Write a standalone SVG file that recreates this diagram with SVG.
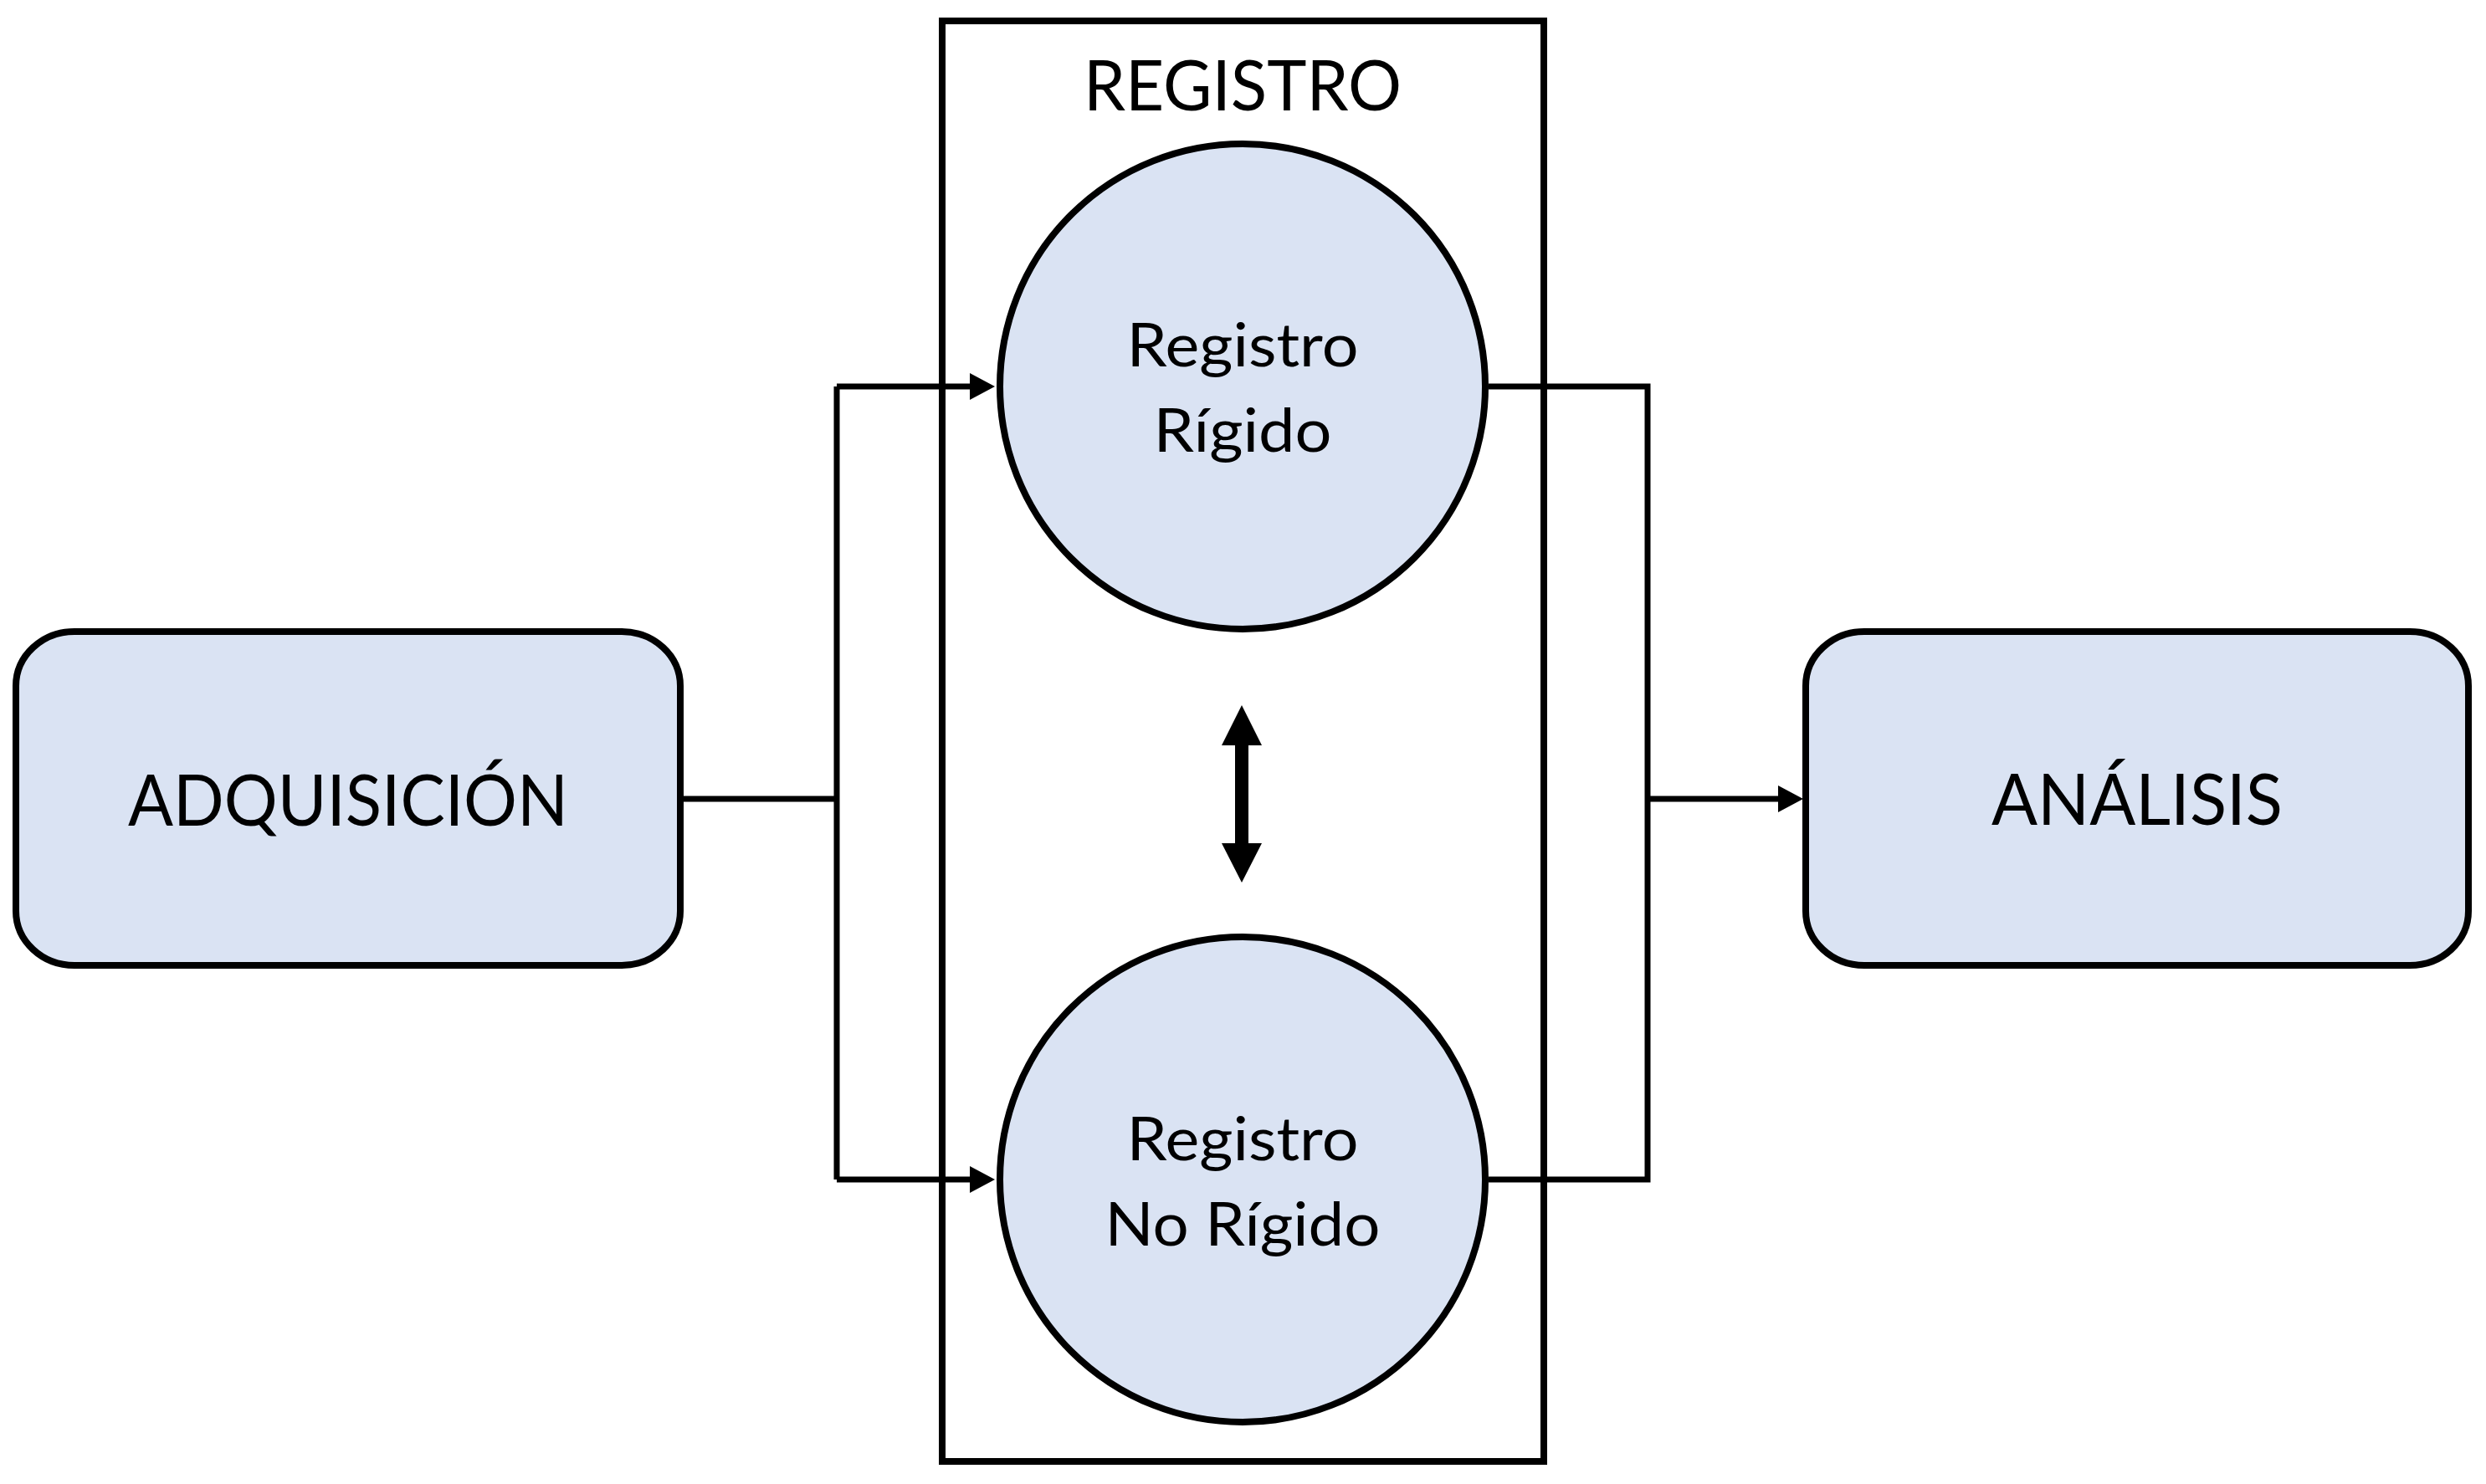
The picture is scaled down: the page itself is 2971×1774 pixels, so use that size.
<svg xmlns="http://www.w3.org/2000/svg" width="2971" height="1774" viewBox="0 0 2971 1774">
<style>
.node{fill:#DAE3F3;stroke:#000;stroke-width:8}
.frame{fill:none;stroke:#000;stroke-width:8}
.conn{fill:none;stroke:#000;stroke-width:7}
.lbl{font-family:Lato,"Open Sans","Liberation Sans",sans-serif;fill:#000;text-anchor:middle}
.big{font-size:86px}
.mid{font-size:72px}
</style>
<defs>
<marker id="ah" markerUnits="userSpaceOnUse" viewBox="0 0 30 32" markerWidth="30" markerHeight="32" refX="20" refY="16" orient="auto">
<path d="M0,0 L30,16 L0,32 z" fill="#000"/>
</marker>
</defs>
<rect width="2971" height="1774" fill="#fff"/>
<g id="registro-group">
<rect class="frame" x="1126" y="25" width="719" height="1722"/>
<text class="lbl" x="1485" y="132" font-size="83" textLength="380" lengthAdjust="spacingAndGlyphs">REGISTRO</text>
</g>
<g id="connectors">
<path class="conn" d="M813,955 H1000"/>
<path class="conn" d="M1000,462 V1410"/>
<path class="conn" d="M1000,462 H1179" marker-end="url(#ah)"/>
<path class="conn" d="M1000,1410 H1179" marker-end="url(#ah)"/>
<path class="conn" d="M1779,462 H1969 V1410 H1779"/>
<path class="conn" d="M1969,955 H2145" marker-end="url(#ah)"/>
<polygon points="1484,843 1508,891 1492,891 1492,1008 1508,1008 1484,1055 1460,1008 1476,1008 1476,891 1460,891" fill="#000"/>
</g>
<g id="adquisicion">
<rect class="node" x="19" y="755" width="794" height="399" rx="70" ry="65"/>
<text class="lbl big" x="416" y="987" textLength="526" lengthAdjust="spacingAndGlyphs">ADQUISICIÓN</text>
</g>
<g id="rigido">
<circle class="node" cx="1485" cy="462" r="290"/>
<text class="lbl mid" x="1485" y="438" textLength="277" lengthAdjust="spacingAndGlyphs">Registro</text>
<text class="lbl mid" x="1485" y="540" textLength="213" lengthAdjust="spacingAndGlyphs">Rígido</text>
</g>
<g id="no-rigido">
<circle class="node" cx="1485" cy="1410" r="290"/>
<text class="lbl mid" x="1485" y="1387" textLength="277" lengthAdjust="spacingAndGlyphs">Registro</text>
<text class="lbl mid" x="1485" y="1489" textLength="329" lengthAdjust="spacingAndGlyphs">No Rígido</text>
</g>
<g id="analisis">
<rect class="node" x="2158" y="755" width="792" height="399" rx="70" ry="65"/>
<text class="lbl big" x="2554" y="986" textLength="348" lengthAdjust="spacingAndGlyphs">ANÁLISIS</text>
</g>
</svg>
